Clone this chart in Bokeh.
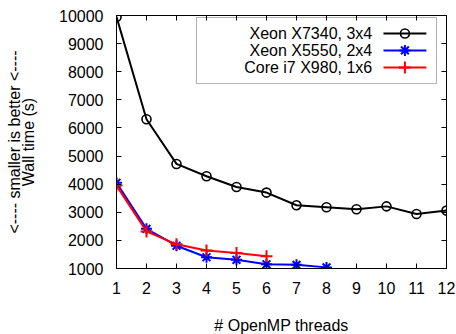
from bokeh.plotting import figure
from bokeh.models import LinearAxis, SingleIntervalTicker, FixedTicker, BoxAnnotation, Label, CustomJSTickFormatter
from bokeh.embed import file_html
from bokeh.resources import INLINE

threads_x7340 = [1, 2, 3, 4, 5, 6, 7, 8, 9, 10, 11, 12]
time_x7340 = [9950, 6310, 4720, 4280, 3900, 3700, 3250, 3180, 3110, 3210, 2940, 3060]
threads_x5550 = [1, 2, 3, 4, 5, 6, 7, 8]
time_x5550 = [4050, 2410, 1810, 1400, 1310, 1150, 1130, 1040]
threads_i7 = [1, 2, 3, 4, 5, 6]
time_i7 = [3950, 2320, 1860, 1640, 1550, 1440]
series_names = ["Xeon X7340, 3x4", "Xeon X5550, 2x4", "Core i7 X980, 1x6"]
series_colors = ["#000000", "#0000ff", "#ff0000"]
series_markers = ["circle", "asterisk", "cross"]
ylabel_lines = ["<---- smaller is better <----", "Wall time (s)"]
xlabel = "# OpenMP threads"

XMIN, XMAX, YMIN, YMAX = 1, 12, 1000, 10000
FONT = "Liberation Sans"
FS = "16px"

p = figure(frame_width=330, frame_height=253, x_range=(XMIN, XMAX), y_range=(YMIN, YMAX),
           output_backend="svg", toolbar_location=None,
           min_border_left=116, min_border_right=10, min_border_top=15, min_border_bottom=66)
p.outline_line_color = "black"
p.outline_line_width = 1
p.xgrid.visible = False
p.ygrid.visible = False
p.background_fill_color = "white"

p.xaxis.ticker = SingleIntervalTicker(interval=1)
p.yaxis.ticker = SingleIntervalTicker(interval=1000)
for ax in p.xaxis + p.yaxis:
    ax.major_tick_in = 5
    ax.major_tick_out = 0
    ax.minor_tick_line_color = None
    ax.axis_line_color = "black"
    ax.major_tick_line_color = "black"
    ax.major_label_text_font = FONT
    ax.major_label_text_font_size = FS
    ax.major_label_text_color = "black"
    ax.major_label_standoff = 9
    ax.axis_label_text_font = FONT
    ax.axis_label_text_font_size = FS
    ax.axis_label_text_font_style = "normal"
    ax.axis_label_text_color = "black"

p.xaxis.axis_label = xlabel
p.xaxis.axis_label_standoff = 20
p.yaxis.axis_label = ylabel_lines[1]
p.yaxis.axis_label_standoff = 19

# outer left axis carrying the first line of the y title
outer_left = LinearAxis(ticker=FixedTicker(ticks=[]), axis_line_color=None,
                        major_tick_line_color=None, minor_tick_line_color=None,
                        major_label_standoff=0, axis_label=ylabel_lines[0],
                        axis_label_standoff=-5, axis_label_text_font=FONT,
                        axis_label_text_font_size=FS, axis_label_text_font_style="normal",
                        axis_label_text_color="black")
p.add_layout(outer_left, "left")

empty = CustomJSTickFormatter(code="return ' '")
top_ax = LinearAxis(ticker=SingleIntervalTicker(interval=1), formatter=empty,
                    major_label_text_font_size="1px",
                    major_tick_in=5, major_tick_out=0, minor_tick_line_color=None,
                    major_label_standoff=0, axis_line_color="black")
right_ax = LinearAxis(ticker=SingleIntervalTicker(interval=1000), formatter=empty,
                      major_label_text_font_size="1px",
                      major_tick_in=5, major_tick_out=0, minor_tick_line_color=None,
                      major_label_standoff=0, axis_line_color="black")
p.add_layout(top_ax, "above")
p.add_layout(right_ax, "right")

xs = [threads_x7340, threads_x5550, threads_i7]
ys = [time_x7340, time_x5550, time_i7]
sizes = [9, 11, 12]
for x, y, c, m, s in zip(xs, ys, series_colors, series_markers, sizes):
    p.line(x, y, line_color=c, line_width=2)
    p.scatter(x, y, marker=m, size=s, line_color=c, fill_color=None, line_width=2 if m != "circle" else 1.6)

def fx(f):
    return XMIN + f * (XMAX - XMIN)

def fy(f):
    return YMIN + f * (YMAX - YMIN)

# legend (gnuplot style: label, then sample)
box = BoxAnnotation(left=fx(0.2424), right=fx(0.9697), bottom=fy(0.731), top=fy(0.992),
                    fill_color="white", fill_alpha=1, line_color="black", line_width=1,
                    level="underlay")
p.add_layout(box)
rows = [0.929, 0.862, 0.794]
for name, c, m, s, r in zip(series_names, series_colors, series_markers, sizes, rows):
    p.add_layout(Label(x=fx(0.775), y=fy(r), text=name, text_align="right", text_baseline="middle",
                       text_font=FONT, text_font_size=FS, text_color="black"))
    p.line([fx(0.809), fx(0.939)], [fy(r), fy(r)], line_color=c, line_width=2)
    p.scatter([fx(0.874)], [fy(r)], marker=m, size=s, line_color=c, fill_color=None,
              line_width=2 if m != "circle" else 1.6)

open("out.html", "w").write(file_html(p, INLINE))
